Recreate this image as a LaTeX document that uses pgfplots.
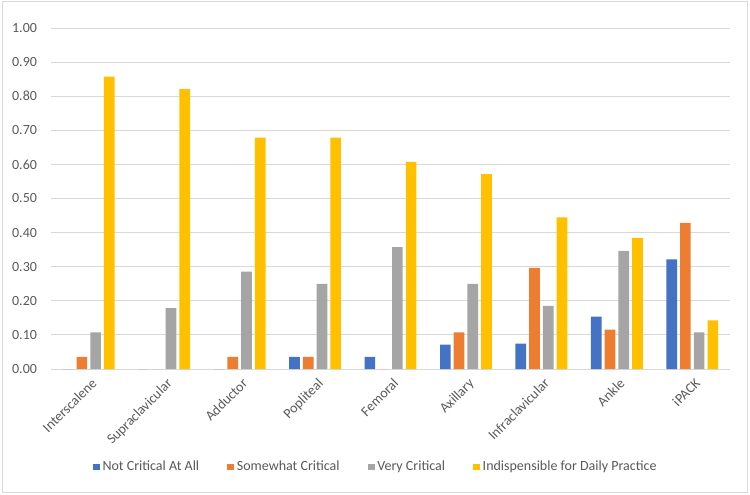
\documentclass[border=0pt]{standalone}
\usepackage{fontspec}
\setmainfont{Carlito}
\usepackage{pgfplots}
\usepackage{pgfplotstable}
\pgfplotsset{compat=1.18}

\definecolor{cblue}{HTML}{4472C4}
\definecolor{corange}{HTML}{ED7D31}
\definecolor{cgray}{HTML}{A5A5A5}
\definecolor{cyellow}{HTML}{FFC000}
\definecolor{gridc}{HTML}{D9D9D9}
\definecolor{textc}{HTML}{595959}

% shares per block: not critical, somewhat, very, indispensable
\pgfplotstableread{
x  nca     sc      vc      ind
0  0       0.0357  0.1071  0.8571
1  0       0       0.1786  0.8214
2  0       0.0357  0.2857  0.6786
3  0.0357  0.0357  0.2500  0.6786
4  0.0357  0       0.3571  0.6071
5  0.0714  0.1071  0.2500  0.5714
6  0.0741  0.2963  0.1852  0.4444
7  0.1538  0.1154  0.3462  0.3846
8  0.3214  0.4286  0.1071  0.1429
}\blocks

\pgfplotsset{
  sqleg/.style={legend image code/.code={\fill[##1] (0pt,-2.6pt) rectangle (5.25pt,2.6pt);}}
}

\begin{document}
\begin{tikzpicture}
  \useasboundingbox (0,0) rectangle (562.5pt,370.5pt);
  \draw[gridc, line width=0.75pt] (1.5pt,1.5pt) rectangle (560.25pt,369pt);
  \begin{axis}[
    at={(38.25pt,93.75pt)}, anchor=south west,
    scale only axis,
    width=509.25pt, height=255.75pt,
    ybar=2.3pt, bar width=8pt,
    xmin=-0.5, xmax=8.5,
    ymin=0, ymax=1,
    xtick={0,...,8},
    xticklabels={Interscalene,Supraclavicular,Adductor,Popliteal,Femoral,Axillary,Infraclavicular,Ankle,iPACK},
    ytick={0,0.1,...,1.01},
    yticklabel style={/pgf/number format/fixed, /pgf/number format/fixed zerofill,
      /pgf/number format/precision=2, /pgf/number format/assume math mode=true, xshift=-7pt},
    xticklabel style={rotate=45, anchor=north east, yshift=-2pt},
    every tick label/.append style={font=\fontsize{10.5}{12}\selectfont, text=textc},
    axis line style={draw=none},
    major tick length=0pt,
    ymajorgrids,
    grid style={gridc, line width=0.75pt},
    legend columns=4,
    legend style={at={(0.4787,-0.2874)}, anchor=center, draw=none,
      font=\fontsize{10.5}{12}\selectfont, text=textc,
      /tikz/every even column/.append style={column sep=19pt}},
    legend cell align=left,
  ]
    \addplot[fill=cblue, draw=none, sqleg] table[x=x, y=nca] {\blocks};
    \addlegendentry{Not Critical At All}
    \addplot[fill=corange, draw=none, sqleg] table[x=x, y=sc] {\blocks};
    \addlegendentry{Somewhat Critical}
    \addplot[fill=cgray, draw=none, sqleg] table[x=x, y=vc] {\blocks};
    \addlegendentry{Very Critical}
    \addplot[fill=cyellow, draw=none, sqleg] table[x=x, y=ind] {\blocks};
    \addlegendentry{Indispensible for Daily Practice}
  \end{axis}
\end{tikzpicture}
\end{document}
